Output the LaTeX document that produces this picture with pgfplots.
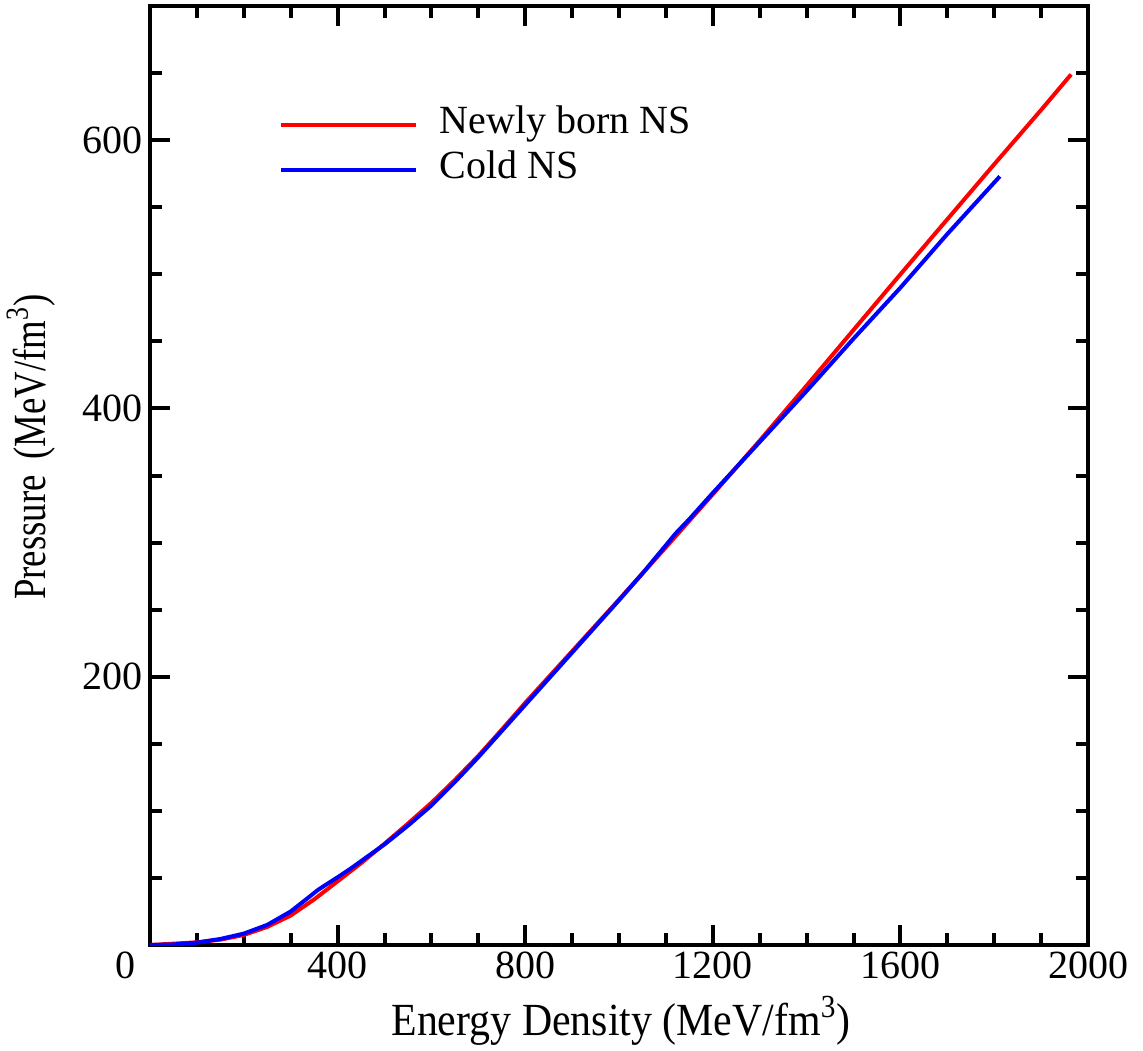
\documentclass[border=0pt]{standalone}
\usepackage{fontspec}
\setmainfont{Liberation Serif}
\usepackage{graphicx}
\usepackage{pgfplots}
\pgfplotsset{compat=1.18}
\newcommand{\ff}{\rmfamily\fontsize{20}{24}\selectfont}
\newcommand{\fl}{\rmfamily\fontsize{23}{27}\selectfont}
\begin{document}
\begin{tikzpicture}
\begin{axis}[
  scale only axis, width=469pt, height=469.5pt,
  xmin=0, xmax=2000, ymin=0, ymax=700,
  axis line style={line width=2pt},
  tick style={line width=2pt, black},
  major tick length=10pt, minor tick length=6pt,
  tick align=inside,
  xtick={0,400,800,1200,1600,2000},
  xticklabels={\makebox[0pt][r]{0\kern7.5pt},400,800,1200,1600,2000},
  minor xtick={100,200,...,1900},
  ytick={0,200,400,600},
  yticklabels={,200,400,600},
  minor ytick={50,100,...,700},
  tick label style={font=\ff},
  xlabel={\scalebox{0.91}[1]{Energy Density (MeV/fm\textsuperscript{3})}},
  ylabel={\scalebox{0.8}[1]{Pressure\hspace{4pt} (MeV/fm\textsuperscript{3})}},
  xlabel style={font=\fl, at={(rel axis cs:0.502,-0.0969)}, anchor=base},
  ylabel style={font=\fl, at={(rel axis cs:-0.1109,0.530)}, anchor=base},
  legend cell align=left,
  legend style={draw=none, fill=none, font=\ff, inner sep=0pt,
    at={(rel axis cs:0.1375,0.8978)}, anchor=north west,
    nodes={inner sep=2.25pt, text height=13.5pt, text depth=4.5pt}},
  legend image code/.code={\draw[#1,line width=2pt] (0pt,0pt) -- (67.5pt,0pt); \path (76pt,0pt);},
]
\addplot[red, line width=2pt] table {
0 0
50 1.0
100 2.0
150 4
200 7.5
250 13.5
300 22
350 34
400 47.5
450 61
500 75.5
550 90.5
600 106
650 123
700 141
750 160.5
800 180.5
900 219
1000 257.5
1100 296.5
1200 336
1300 376
1400 417
1500 458.5
1600 500
1700 541
1800 582
1900 622.5
1964 649
};
\addlegendentry{Newly born NS}
\addplot[blue, line width=2pt] table {
0 0
50 0.4
100 1.8
150 4.5
200 8.5
250 15
300 25
320 30.5
340 36
356 40.5
370 43.8
400 50.5
430 57.5
475 68.8
500 75
550 89
600 104
650 121.5
700 140
750 159.5
800 179
900 218
1000 257
1050 277
1100 298
1120 306.5
1150 317.5
1200 337
1300 375
1400 413
1500 452
1600 490
1700 530
1812 573
};
\addlegendentry{Cold NS}
\end{axis}
\pgfresetboundingbox
\path[use as bounding box] (current axis.south west) ++(-75pt,-52.5pt) rectangle ++(571.5pt,525pt);
\end{tikzpicture}
\end{document}
